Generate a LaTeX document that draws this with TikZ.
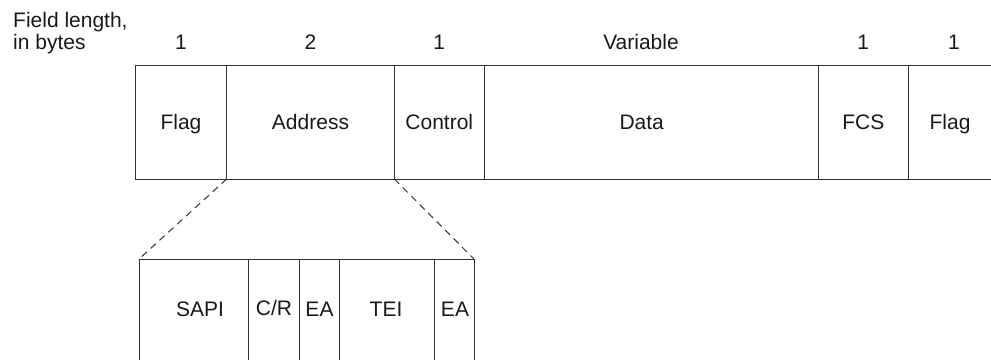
\documentclass[tikz,border=0pt]{standalone}
\usepackage{fontspec}
\setmainfont{Liberation Sans}
\begin{document}
\begin{tikzpicture}[x=1pt,y=-1pt,
  lbl/.style={anchor=base, font=\fontsize{21}{25}\selectfont, inner sep=0pt, text=black!90},
  frame/.style={draw=black!80, line width=1pt},
  zoomline/.style={draw=black!80, line width=1pt, dash pattern=on 7pt off 5pt}]
\useasboundingbox (0,0) rectangle (991,360);
% top frame corners and dividers
\coordinate (tl) at (135,65);
\coordinate (bl) at (135,179);
\coordinate (tr) at (991,65);
\coordinate (br) at (991,179);
\foreach \n/\x in {d1/226.7,d2/394.3,d3/484.3,d4/818.3,d5/908.3}{
  \coordinate (\n t) at (\x,65);
  \coordinate (\n b) at (\x,179);
}
\draw[frame] (tr) -- (tl) -- (bl) -- (br);
\foreach \n in {d1,d2,d3,d4,d5}{\draw[frame] (\n t) -- (\n b);}
% bottom frame
\coordinate (stl) at (139,259);
\coordinate (str) at (474,259);
\coordinate (sbl) at (139,360);
\coordinate (sbr) at (474,360);
\foreach \n/\x in {s1/248.7,s2/299.7,s3/339.7,s4/434.7}{
  \coordinate (\n t) at (\x,259);
  \coordinate (\n b) at (\x,360);
}
\draw[frame] (sbl) -- (stl) -- (str) -- (sbr);
\foreach \n in {s1,s2,s3,s4}{\draw[frame] (\n t) -- (\n b);}
% expansion lines
\draw[zoomline] (d1b) -- (stl);
\draw[zoomline] (d2b) -- (str);
% heading
\node[lbl, anchor=base west] (h1) at (13,27) {Field length,};
\node[lbl, anchor=base west] (h2) at (13,49) {in bytes};
% lengths
\node[lbl] (n1) at (181,49) {1};
\node[lbl] (n2) at (310.5,49) {2};
\node[lbl] (n3) at (439.3,49) {1};
\node[lbl] (n4) at (641,49) {Variable};
\node[lbl] (n5) at (863.3,49) {1};
\node[lbl] (n6) at (954,49) {1};
% field labels
\node[lbl] (f1) at (181,129) {Flag};
\node[lbl] (f2) at (310.5,129) {Address};
\node[lbl] (f3) at (439.3,129) {Control};
\node[lbl] (f4) at (641.7,129) {Data};
\node[lbl] (f5) at (863.3,129) {FCS};
\node[lbl] (f6) at (950,129) {Flag};
% address subfields
\node[lbl] (a1) at (200,316.7) {SAPI};
\node[lbl] (a2) at (274,315) {C/R};
\node[lbl] (a3) at (319.5,316.7) {EA};
\node[lbl] (a4) at (386,316.7) {TEI};
\node[lbl] (a5) at (455,316.7) {EA};
\end{tikzpicture}
\end{document}
